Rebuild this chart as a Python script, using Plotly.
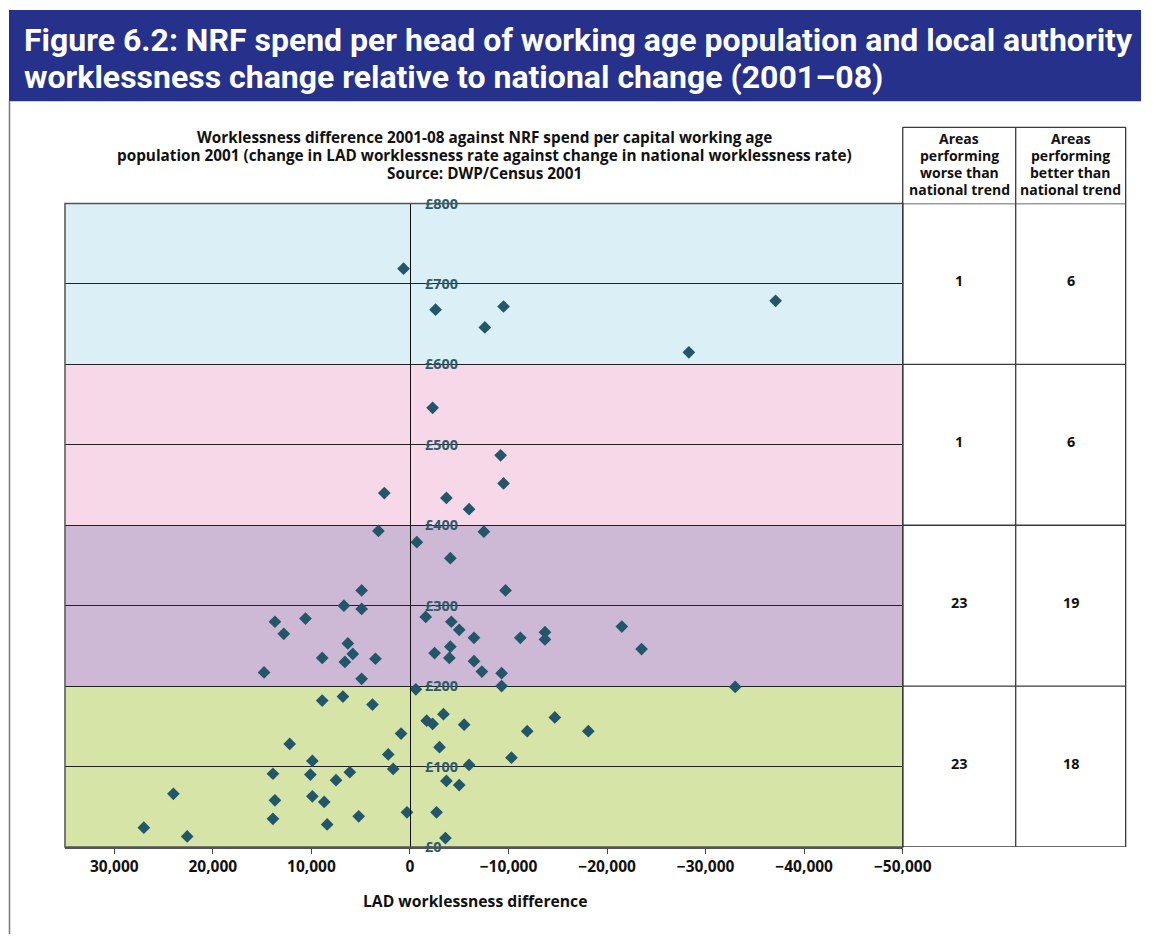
import plotly.graph_objects as go

W, H = 1170, 943

# LAD worklessness difference (x) and NRF spend per working-age head, £ (y)
workless_diff = [
    650, -2600, -7600, -9500, -28300, -37100,
    -2300, -9200, -9500, 2600, -3700, -6000,
    3200, -7500, -700, -4100, -9700, 4900, 6700, 4900, 13700, 10600,
    12800, 6300, 5800, 8900, 6600, 3500, 14800, 4900,
    -1600, -4200, -5000, -6500, -11200, -13700, -13700, -21500, -23500,
    -4100, -2500, -4000, -6500, -7300, -9300, -9300, -33000,
    -600, 8900, 6800, 3800, -1700, -2300, -3400, -5500, 900, 12200,
    2200, -3000, 9900, 1700, -6000, -10300, 13900, 10100, 6100, 7500,
    -3700, -5000, 24000, 13700, 9900, 8700, 300, -2700, 13900, 5200,
    8400, 27000, 22600, -3600, -11900, -14700, -18100,
]
spend_per_head = [
    719, 668, 646, 672, 615, 679,
    546, 487, 452, 440, 434, 420,
    393, 392, 379, 359, 319, 319, 300, 296, 280, 284,
    265, 253, 240, 235, 230, 234, 217, 209,
    286, 280, 270, 260, 260, 267, 258, 274, 246,
    249, 241, 235, 231, 218, 216, 200, 199,
    196, 182, 187, 177, 157, 153, 165, 152, 141, 128,
    115, 124, 107, 97, 102, 111, 91, 90, 93, 83,
    82, 77, 66, 58, 63, 56, 43, 43, 35, 38,
    28, 24, 13, 11, 144, 161, 144,
]

# spend bands (bottom to top) and the area counts shown beside each band
band_edges = [0, 200, 400, 600, 800]
band_colours = ["#d6e5a7", "#cdb9d6", "#f6d8e8", "#daf0f6"]
worse_counts = [23, 23, 1, 1]
better_counts = [18, 19, 6, 6]

x_ticks = list(range(-50000, 30001, 10000))
y_ticks = list(range(0, 801, 100))
y_tick_labels = ["£0", "£100", "£200", "£300", "£400", "£500", "£600", "£700", "£800"]
x_range = [35000, -50000]

header_worse = ["Areas", "performing", "worse than", "national trend"]
header_better = ["Areas", "performing", "better than", "national trend"]
title_lines = [
    "Figure 6.2: NRF spend per head of working age population and local authority",
    "worklessness change relative to national change (2001–08)",
]
chart_title = [
    "Worklessness difference 2001-08 against NRF spend per capital working age",
    "population 2001 (change in LAD worklessness rate against change in national worklessness rate)",
    "Source: DWP/Census 2001",
]

# layout grid (px); mapped onto the figure with a small scale and offset
PLOT_L, PLOT_R, PLOT_T, PLOT_B = 65, 903, 203, 844.5
COL_MID, COL_R, HEAD_T = 1016, 1126, 127
GRID_SX, GRID_SY, GRID_OY = 0.9755, 0.977, 10.0
FONT = "Open Sans"
TEAL = "#24566a"
LINE = "#3a3a3a"


def fx(p):
    return p / GRID_SX / W


def fy(p):
    return min(1.0, 1 - (p - GRID_OY) / GRID_SY / H)


x_dom = [fx(PLOT_L), fx(PLOT_R)]
y_dom = [fy(PLOT_B), fy(PLOT_T)]
zero_pos = x_dom[0] + (x_range[0] - 0) / (x_range[0] - x_range[1]) * (x_dom[1] - x_dom[0])

fig = go.Figure()
fig.add_trace(go.Scatter(
    x=workless_diff, y=spend_per_head, mode="markers",
    marker=dict(symbol="diamond", size=9.8, color=TEAL, line=dict(width=0)),
    cliponaxis=False, hoverinfo="x+y", showlegend=False,
))

shapes = []
# coloured spend bands
for lo, hi, col in zip(band_edges[:-1], band_edges[1:], band_colours):
    shapes.append(dict(type="rect", xref="x domain", yref="y", x0=0, x1=1, y0=lo, y1=hi,
                       fillcolor=col, line=dict(width=0), layer="below"))
# plot frame
shapes.append(dict(type="rect", xref="x domain", yref="y domain", x0=0, x1=1, y0=0, y1=1,
                   line=dict(color="#555", width=1.5), fillcolor="rgba(0,0,0,0)", layer="above"))
# title banner and page frame
shapes.append(dict(type="rect", xref="paper", yref="paper", x0=fx(9), x1=1, y0=fy(101), y1=fy(8),
                   fillcolor="#25318a", line=dict(width=0), layer="below"))
shapes.append(dict(type="line", xref="paper", yref="paper", x0=fx(9.5), x1=fx(9.5), y0=0, y1=fy(101),
                   line=dict(color="#777", width=1.5)))
# count table: vertical rules and horizontal rules at band edges
for xp in (PLOT_R, COL_MID, COL_R):
    shapes.append(dict(type="line", xref="paper", yref="paper", x0=fx(xp), x1=fx(xp),
                       y0=fy(PLOT_B), y1=fy(HEAD_T), line=dict(color=LINE, width=1.3)))
shapes.append(dict(type="line", xref="paper", yref="paper", x0=fx(PLOT_R), x1=fx(COL_R),
                   y0=fy(HEAD_T), y1=fy(HEAD_T), line=dict(color=LINE, width=1.3)))
for edge in band_edges:
    shapes.append(dict(type="line", xref="paper", yref="y", x0=fx(PLOT_R), x1=fx(COL_R),
                       y0=edge, y1=edge, line=dict(color=LINE, width=1.3)))

annotations = []
for i, line in enumerate(title_lines):
    annotations.append(dict(text=line, xref="paper", yref="paper", x=fx(22), y=fy(40 + 37 * i),
                            xanchor="left", yanchor="middle", showarrow=False,
                            font=dict(family="Roboto", size=32, color="white", weight="bold")))
for i, line in enumerate(chart_title):
    annotations.append(dict(text=line, xref="paper", yref="paper", x=fx(485), y=fy(137 + 18 * i),
                            xanchor="center", yanchor="middle", showarrow=False,
                            font=dict(family=FONT, size=15.3, color="#111", weight="bold")))
for col_x, lines in ((fx((PLOT_R + COL_MID) / 2), header_worse), (fx((COL_MID + COL_R) / 2), header_better)):
    for i, line in enumerate(lines):
        annotations.append(dict(text=line, xref="paper", yref="paper", x=col_x, y=fy(138 + 17 * i),
                                xanchor="center", yanchor="middle", showarrow=False,
                                font=dict(family=FONT, size=14, color="#111", weight="bold")))
for lo, hi, w, b in zip(band_edges[:-1], band_edges[1:], worse_counts, better_counts):
    mid = (lo + hi) / 2
    for col_x, val in ((fx((PLOT_R + COL_MID) / 2), w), (fx((COL_MID + COL_R) / 2), b)):
        annotations.append(dict(text=str(val), xref="paper", yref="y", x=col_x, y=mid, yshift=3,
                                xanchor="center", yanchor="middle", showarrow=False,
                                font=dict(family=FONT, size=14.4, color="#111", weight="bold")))
annotations.append(dict(text="LAD worklessness difference", xref="paper", yref="paper",
                        x=fx(475), y=fy(898), xanchor="center", yanchor="middle", showarrow=False,
                        font=dict(family=FONT, size=15.7, color="#111", weight="bold")))

fig.update_layout(
    width=W, height=H, margin=dict(l=0, r=0, t=0, b=0),
    paper_bgcolor="white", plot_bgcolor="white",
    xaxis=dict(domain=x_dom, range=x_range, tickvals=x_ticks, tickformat=",",
               ticks="outside", ticklen=5, tickcolor="#444", showline=True, linecolor="#555",
               linewidth=1.5, showgrid=False, zeroline=False, anchor="y",
               tickfont=dict(family=FONT, size=15.5, color="#111", weight="bold")),
    yaxis=dict(domain=y_dom, range=[0, 800], tickmode="array", tickvals=y_ticks,
               ticktext=y_tick_labels,
               anchor="free", position=zero_pos, side="left", ticklabelposition="inside",
               ticklabeloverflow="allow", ticklabelstandoff=14, ticks="",
               showline=True, linecolor="#111", linewidth=1, showgrid=True,
               gridcolor="#222", gridwidth=1, zeroline=False,
               tickfont=dict(family=FONT, size=14.4, color="#2d5a6b", weight="bold")),
    shapes=shapes, annotations=annotations,
)

fig.write_html("out.html")
